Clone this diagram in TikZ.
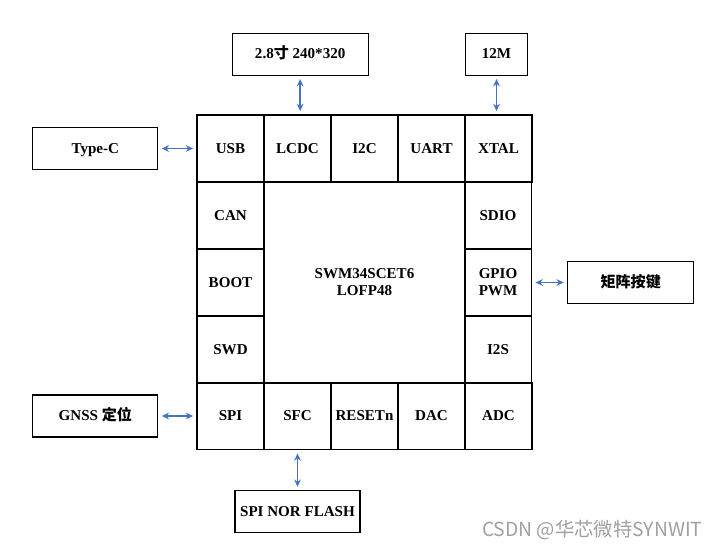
\documentclass[tikz,border=0pt]{standalone}
\usepackage{fontspec}
\setmainfont{Liberation Serif}
\newfontfamily\cjk{Noto Sans CJK SC}
\usepackage{xcolor}
\usepackage{tikz}
\usetikzlibrary{
  arrows.meta,
  positioning
}
\definecolor{linkblue}{RGB}{68,114,196}
\definecolor{markgray}{RGB}{160,160,160}
\tikzset{
  cellbox/.style={
    draw,
    line width=0.9pt,
    minimum width=50.25pt,
    minimum height=50.25pt,
    align=center,
    inner sep=1pt,
    font=\fontsize{11.3}{12.8}\selectfont\bfseries
  },
  corebox/.style={cellbox,minimum width=150.75pt,minimum height=150.75pt},
  extbox/.style={
    draw,
    line width=0.9pt,
    minimum height=31.5pt,
    text height=8pt,
    text depth=1pt,
    align=center,
    inner sep=2pt,
    font=\fontsize{11.3}{12.8}\selectfont\bfseries
  },
  biarrow/.style={{Stealth[length=5.5pt,width=5pt]}-{Stealth[length=5.5pt,width=5pt]},
    line width=1.2pt,draw=linkblue,shorten <=2.5pt,shorten >=2.5pt},
}

\begin{document}
\begin{tikzpicture}[x=0.75pt,y=-0.75pt]
  \useasboundingbox (0,0) rectangle (721,549);

  % Chip grid
  \node[corebox] (core) at (364.5,282.5) {SWM34SCET6\\LOFP48};
  \foreach \name/\txt [count=\i from 0] in {usb/USB,lcdc/LCDC,i2c/I2C,uart/UART,xtal/XTAL}
    \node[cellbox] (\name) at (230.5+67*\i,148.5) {\txt};
  \foreach \name/\txt [count=\i from 0] in {spi/SPI,sfc/SFC,reset/RESETn,dac/DAC,adc/ADC}
    \node[cellbox] (\name) at (230.5+67*\i,416) {\txt};
  \foreach \name/\txt [count=\i from 1] in {can/CAN,boot/BOOT,swd/SWD}
    \node[cellbox] (\name) at (230.5,148.5+67*\i) {\txt};
  \foreach \name/\txt [count=\i from 1] in {sdio/SDIO,gpio/GPIO\\PWM,iis/I2S}
    \node[cellbox] (\name) at (498,148.5+67*\i) {\txt};

  % Peripherals
  \node[extbox,minimum width=102pt,above=29pt of lcdc,xshift=2pt] (lcd) {2.8{\cjk\bfseries 寸} 240*320};
  \node[extbox,minimum width=46.5pt,above=29pt of xtal,xshift=-1.5pt] (osc) {12M};
  \node[extbox,minimum width=93.75pt,left=28.5pt of usb] (typec) {Type-C};
  \node[extbox,minimum width=93.75pt,left=28.5pt of spi] (gnss) {GNSS {\cjk\bfseries 定位}};
  \node[extbox,minimum width=94.5pt,right=26.25pt of gpio] (keys) {{\cjk\bfseries 矩阵按键}};
  \node[extbox,minimum width=93.75pt,below=30pt of sfc] (flash) {SPI NOR FLASH};

  % Links
  \draw[biarrow] (lcd) -- (lcd |- lcdc.north);
  \draw[biarrow] (osc) -- (osc |- xtal.north);
  \draw[biarrow] (typec) -- (usb);
  \draw[biarrow] (gnss) -- (spi);
  \draw[biarrow] (gpio) -- (keys);
  \draw[biarrow] (sfc) -- (flash);

  % Watermark
  \node[font=\cjk\fontsize{14.5}{16}\selectfont,text=markgray,anchor=east] (mark) at (707,530) {CSDN @华芯微特SYNWIT};
\end{tikzpicture}
\end{document}
